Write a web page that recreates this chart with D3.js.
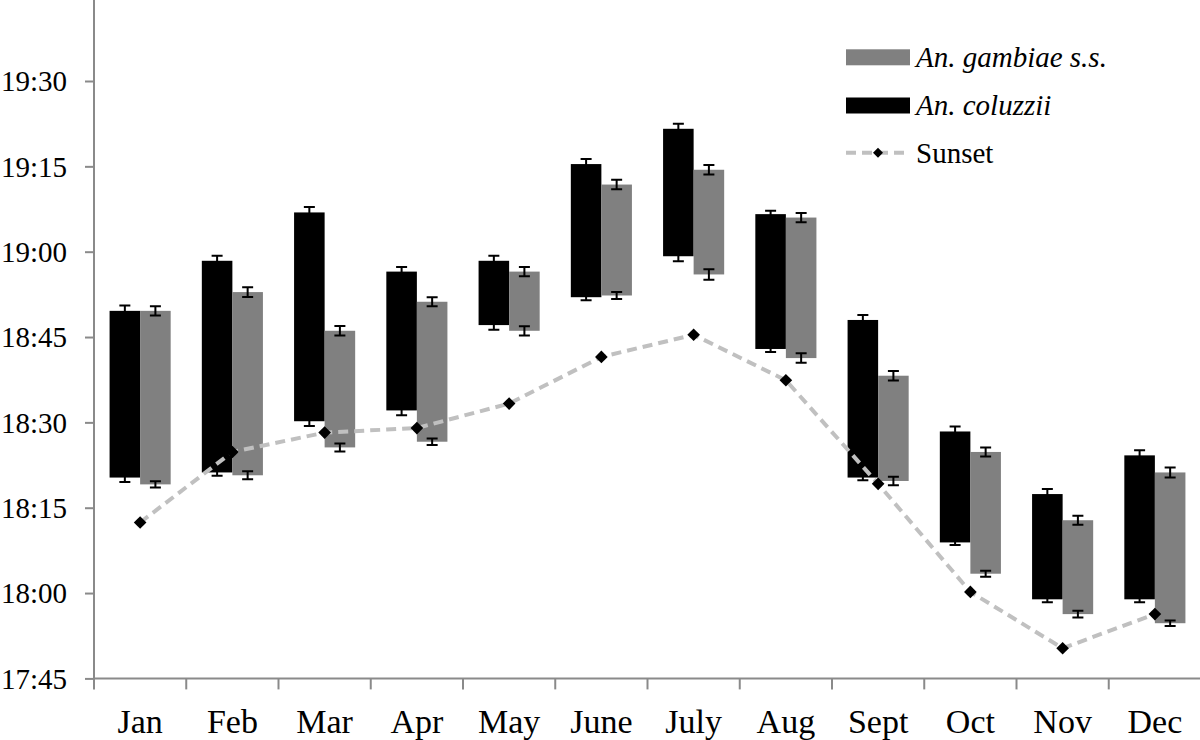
<!DOCTYPE html>
<html>
<head>
<meta charset="utf-8">
<script src="https://cdn.jsdelivr.net/npm/d3@7"></script>
<style>
  body { margin: 0; background: #fff; }
  text { font-family: "Liberation Serif", "Times New Roman", serif; fill: #000; }
</style>
</head>
<body>
<script>
// months on the x axis
const months = ["Jan", "Feb", "Mar", "Apr", "May", "June", "July", "Aug", "Sept", "Oct", "Nov", "Dec"];

// An. coluzzii : start / end of the activity window (clock time) and SE at each end (minutes)
const coluzziiStart = ["18:20.3", "18:21.2", "18:30.2", "18:32.1", "18:47.1", "18:52.0", "18:59.2", "18:42.9", "18:20.3", "18:08.9", "17:58.9", "17:58.9"];
const coluzziiEnd   = ["18:49.6", "18:58.4", "19:06.9", "18:56.5", "18:58.4", "19:15.4", "19:21.6", "19:06.6", "18:48.0", "18:28.4", "18:17.4", "18:24.2"];
const coluzziiStartErr = [0.78, 0.58, 0.84, 0.83, 0.83, 0.53, 0.88, 0.53, 0.47, 0.47, 0.53, 0.53];
const coluzziiEndErr   = [0.93, 0.88, 0.95, 0.83, 0.88, 0.88, 0.88, 0.58, 0.88, 0.88, 0.88, 0.88];

// An. gambiae s.s.
const gambiaeStart = ["18:19.1", "18:20.7", "18:25.6", "18:26.6", "18:46.1", "18:52.3", "18:56.0", "18:41.3", "18:19.7", "18:03.4", "17:56.3", "17:54.7"];
const gambiaeEnd   = ["18:49.6", "18:52.9", "18:46.1", "18:51.2", "18:56.5", "19:11.8", "19:14.4", "19:06.0", "18:38.2", "18:24.8", "18:12.8", "18:21.2"];
const gambiaeStartErr = [0.53, 0.70, 0.70, 0.58, 0.81, 0.60, 0.93, 0.83, 0.76, 0.53, 0.58, 0.47];
const gambiaeEndErr   = [0.83, 0.85, 0.83, 0.79, 0.82, 0.83, 0.85, 0.82, 0.85, 0.79, 0.79, 0.88];

// sunset time per month
const sunset = ["18:12.4", "18:24.8", "18:28.2", "18:29.0", "18:33.3", "18:41.5", "18:45.4", "18:37.4", "18:19.2", "18:00.2", "17:50.3", "17:56.3"];

// y ticks
const yTicks = ["17:45", "18:00", "18:15", "18:30", "18:45", "19:00", "19:15", "19:30"];

// "18:20.3" -> minutes since midnight
function toMin(s) {
    const p = s.split(":");
    return +p[0] * 60 + +p[1];
}
function fmt(m) {
    const h = Math.floor(m / 60), mm = Math.round(m - h * 60);
    return h + ":" + (mm < 10 ? "0" + mm : mm);
}

const width = 1200, height = 740;

const svg = d3.select("body").append("svg")
    .attr("width", width)
    .attr("height", height);

const axisColor = "#8a8a8a";

// scales
const x0 = d3.scaleBand().domain(months).range([94, 1201]).padding(0);
const x1 = d3.scaleBand().domain(["col", "gam"]).range([0, x0.bandwidth()]).paddingInner(0).paddingOuter(0.51);
const y = d3.scaleLinear().domain([toMin("17:45"), toMin("19:45")]).range([678.4, 678.4 - 120 * 5.6895]);

// data rows
const rows = months.map((m, i) => ({
    month: m,
    col: { s: toMin(coluzziiStart[i]), e: toMin(coluzziiEnd[i]), se: coluzziiStartErr[i], ee: coluzziiEndErr[i] },
    gam: { s: toMin(gambiaeStart[i]), e: toMin(gambiaeEnd[i]), se: gambiaeStartErr[i], ee: gambiaeEndErr[i] },
    sun: toMin(sunset[i])
}));

const series = [
    { key: "col", color: "#000000" },
    { key: "gam", color: "#808080" }
];

// floating bars
series.forEach(sr => {
    svg.append("g").selectAll("rect")
        .data(rows)
        .enter().append("rect")
        .attr("x", d => x0(d.month) + x1(sr.key))
        .attr("width", x1.bandwidth())
        .attr("y", d => y(d[sr.key].e))
        .attr("height", d => y(d[sr.key].s) - y(d[sr.key].e))
        .attr("fill", sr.color);
});

// error bars on both ends of each bar
const capW = 11;
const eb = svg.append("g").attr("stroke", "#000").attr("stroke-width", 2).attr("fill", "none");
function errBar(cx, v, e) {
    const a = y(v + e), b = y(v - e);
    eb.append("path").attr("d",
        `M${cx},${a}V${b}M${cx - capW / 2},${a}H${cx + capW / 2}M${cx - capW / 2},${b}H${cx + capW / 2}`);
}
series.forEach(sr => {
    rows.forEach(d => {
        const v = d[sr.key];
        const cx = x0(d.month) + x1(sr.key) + x1.bandwidth() / 2;
        errBar(cx, v.e, v.ee);
        errBar(cx, v.s, v.se);
    });
});

// axes
const yAxis = d3.axisLeft(y)
    .tickValues(yTicks.map(toMin))
    .tickFormat(fmt)
    .tickSize(9)
    .tickSizeOuter(0)
    .tickPadding(18);

const gy = svg.append("g").attr("transform", "translate(94,0)").call(yAxis);
gy.select(".domain").attr("stroke", axisColor).attr("stroke-width", 2).attr("d", `M0,${y.range()[0]}V0`);
gy.selectAll(".tick line").attr("stroke", axisColor).attr("stroke-width", 2);
gy.selectAll(".tick text")
    .style("font-family", "Liberation Serif")
    .style("font-size", "29px")
    .attr("fill", "#000")
    .attr("dy", "0.34em");

// x axis line and ticks at the band boundaries
const gx = svg.append("g");
gx.append("line")
    .attr("x1", 94).attr("x2", 1201)
    .attr("y1", y.range()[0]).attr("y2", y.range()[0])
    .attr("stroke", axisColor).attr("stroke-width", 2);
gx.selectAll(".xt")
    .data(months.concat(["end"]))
    .enter().append("line")
    .attr("x1", (d, i) => x0.range()[0] + i * x0.step())
    .attr("x2", (d, i) => x0.range()[0] + i * x0.step())
    .attr("y1", y.range()[0]).attr("y2", y.range()[0] + 11)
    .attr("stroke", axisColor).attr("stroke-width", 2);
gx.selectAll(".xl")
    .data(months)
    .enter().append("text")
    .attr("x", d => x0(d) + x0.bandwidth() / 2)
    .attr("y", 733)
    .attr("text-anchor", "middle")
    .style("font-size", "34px")
    .text(d => d);

// sunset line
const line = d3.line()
    .x(d => x0(d.month) + x0.bandwidth() / 2)
    .y(d => y(d.sun));

svg.append("path")
    .datum(rows)
    .attr("d", line)
    .attr("fill", "none")
    .attr("stroke", "#c0c0c0")
    .attr("stroke-width", 4)
    .attr("stroke-dasharray", "10,6");

const diamond = d3.symbol().type(d3.symbolSquare).size(80);
svg.append("g").selectAll("path")
    .data(rows)
    .enter().append("path")
    .attr("d", diamond)
    .attr("transform", d => `translate(${x0(d.month) + x0.bandwidth() / 2},${y(d.sun)}) rotate(45)`)
    .attr("fill", "#000");

// legend
const legend = svg.append("g");
const lx = 846, lw = 64, tx = 916;
const legendItems = [
    { label: "An. gambiae s.s.", color: "#808080", italic: true, cy: 57.3 },
    { label: "An. coluzzii", color: "#000000", italic: true, cy: 105.5 },
    { label: "Sunset", color: null, italic: false, cy: 152.7 }
];
legendItems.forEach(it => {
    if (it.color) {
        legend.append("rect")
            .attr("x", lx).attr("y", it.cy - 8)
            .attr("width", lw).attr("height", 16)
            .attr("fill", it.color);
    } else {
        legend.append("line")
            .attr("x1", lx).attr("x2", lx + lw)
            .attr("y1", it.cy).attr("y2", it.cy)
            .attr("stroke", "#c0c0c0").attr("stroke-width", 4)
            .attr("stroke-dasharray", "10,6");
        legend.append("path")
            .attr("d", d3.symbol().type(d3.symbolSquare).size(50))
            .attr("transform", `translate(${lx + lw / 2},${it.cy}) rotate(45)`)
            .attr("fill", "#000");
    }
    legend.append("text")
        .attr("x", tx).attr("y", it.cy)
        .attr("dy", "0.34em")
        .style("font-size", "29px")
        .style("font-style", it.italic ? "italic" : "normal")
        .text(it.label);
});
</script>
</body>
</html>
